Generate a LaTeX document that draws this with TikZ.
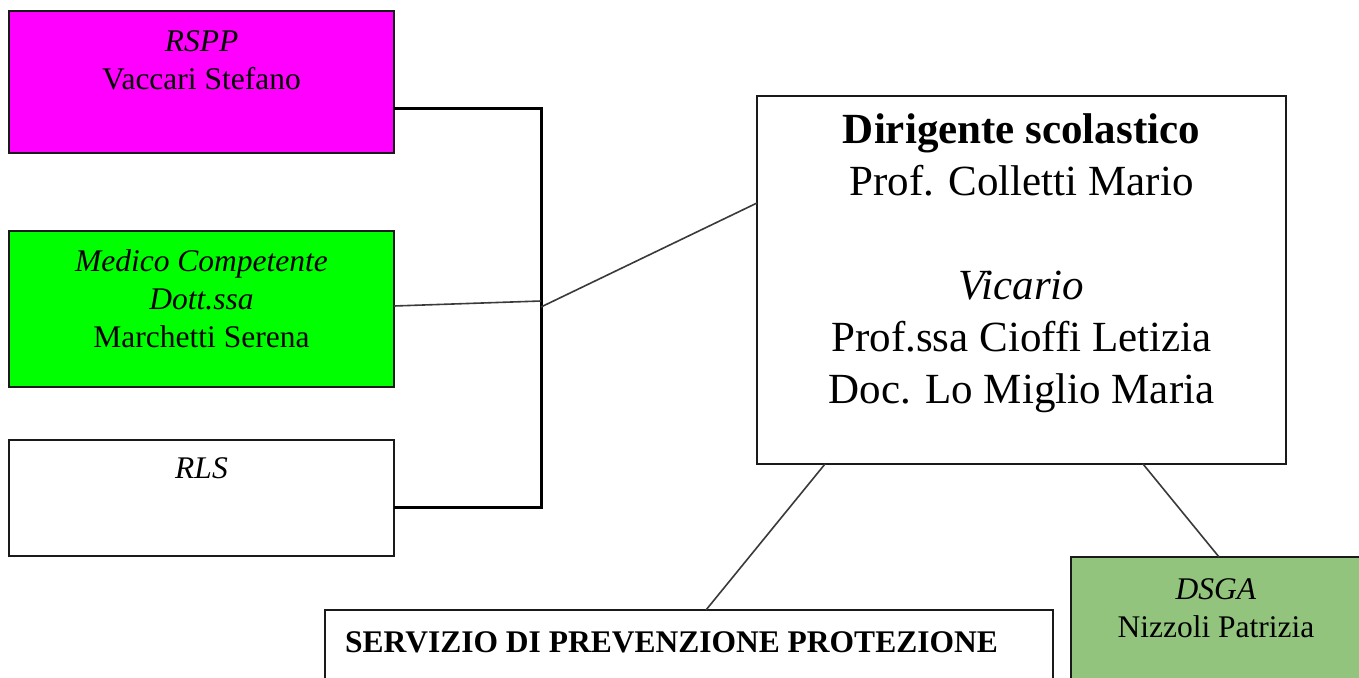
\documentclass[tikz,border=0pt]{standalone}
\usepackage{fontspec}
\setmainfont{Liberation Serif}
\usetikzlibrary{calc}
\definecolor{rsppcol}{HTML}{FF00FF}
\definecolor{medcol}{HTML}{00FF00}
\definecolor{dsgacol}{HTML}{93C47D}
\definecolor{edgecol}{HTML}{1A1A1A}
\definecolor{linkcol}{HTML}{3A3A3A}
\tikzset{
  orgbox/.style={draw=edgecol, line width=2.2pt, rectangle, inner sep=0pt, outer sep=0pt, anchor=north west},
  smalltxt/.style={align=center, inner sep=0pt, anchor=base, font=\fontsize{31.5pt}{38pt}\selectfont},
  bigtxt/.style={align=center, inner sep=0pt, anchor=base, font=\fontsize{43pt}{52pt}\selectfont},
  bracketline/.style={draw=black, line width=3pt},
  thinlink/.style={draw=linkcol, line width=1.6pt},
}
\begin{document}
\begin{tikzpicture}[x=1pt, y=-1pt]
\clip (0,0) rectangle (1359,677);
\fill[white] (0,0) rectangle (1359,677);

% boxes
\node[orgbox, fill=rsppcol, minimum width=385pt, minimum height=142pt] (rspp) at (9,11) {};
\node[orgbox, fill=medcol, minimum width=385pt, minimum height=156pt] (medico) at (9,231) {};
\node[orgbox, fill=white, minimum width=385pt, minimum height=116pt] (rls) at (9,440) {};
\node[orgbox, fill=white, minimum width=529pt, minimum height=368pt] (dir) at (757,96) {};
\node[orgbox, fill=white, minimum width=728pt, minimum height=100pt] (serv) at (325,610) {};
\node[orgbox, fill=dsgacol, minimum width=320pt, minimum height=150pt] (dsga) at (1071,557) {};

% texts (anchor base = baseline of the last line)
\node[smalltxt] (trspp) at ([yshift=-78pt]rspp.north) {\textit{RSPP}\\Vaccari Stefano};
\node[smalltxt] (tmed) at ([yshift=-116pt]medico.north) {\textit{Medico Competente}\\\textit{Dott.ssa}\\Marchetti Serena};
\node[smalltxt] (trls) at ([yshift=-38pt]rls.north) {\textit{RLS}};
\node[bigtxt] (tdir) at ([yshift=-307pt]dir.north) {\textbf{Dirigente scolastico}\\Prof. Colletti Mario\\[52pt]\textit{Vicario}\\Prof.ssa Cioffi Letizia\\Doc. Lo Miglio Maria};
\node[smalltxt, anchor=base west] (tserv) at ([xshift=20pt,yshift=-42pt]serv.north west) {\textbf{SERVIZIO DI PREVENZIONE PROTEZIONE}};
\node[smalltxt] (tdsga) at ([xshift=145pt,yshift=-80pt]dsga.north west) {\textit{DSGA}\\Nizzoli Patrizia};

% junction points
\coordinate (jtop) at (541,108);
\coordinate (jbot) at (541,507);
\coordinate (jmid) at (541,301);
\coordinate (jmidb) at (541,307);

% bracket
\draw[bracketline] (rspp.east |- jtop) -- (jtop) -- (jbot) -- (rls.east |- jbot);
\draw[thinlink] ([yshift=3pt]medico.east) -- (jmid);
\draw[thinlink] (jmidb) -- ([yshift=77pt]dir.west);
\draw[thinlink] ([xshift=68pt]dir.south west) -- ([xshift=381pt]serv.north west);
\draw[thinlink] ([xshift=-143pt]dir.south east) -- ([xshift=148pt]dsga.north west);
\end{tikzpicture}
\end{document}
